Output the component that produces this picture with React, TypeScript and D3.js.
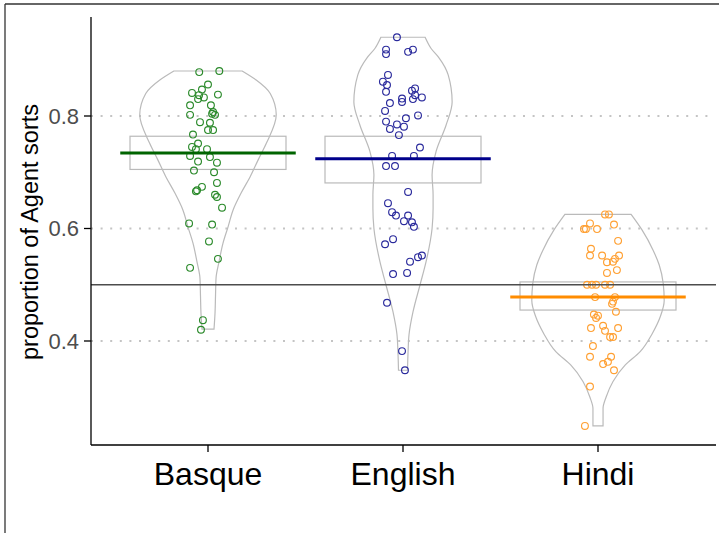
import React from "react";
import * as d3 from "d3";

const W = 719;
const H = 533;

const categories = ["Basque", "English", "Hindi"];
const yTicks = [0.4, 0.6, 0.8];
const referenceLine = 0.5;

// Violin outlines: [value, relative density (1 = widest violin)]
const violinBasque: [number, number][] = [
  [0.421, 0.088], [0.45, 0.103], [0.48, 0.11], [0.512, 0.118], [0.541, 0.162],
  [0.574, 0.22], [0.603, 0.294], [0.633, 0.368], [0.663, 0.485], [0.692, 0.618],
  [0.722, 0.735], [0.751, 0.853], [0.802, 1.0], [0.84, 0.912], [0.864, 0.706], [0.88, 0.5],
];
const violinEnglish: [number, number][] = [
  [0.348, 0.066], [0.38, 0.074], [0.411, 0.088], [0.452, 0.147], [0.5, 0.25],
  [0.541, 0.338], [0.6, 0.426], [0.636, 0.441], [0.66, 0.441], [0.695, 0.426],
  [0.737, 0.485], [0.784, 0.632], [0.825, 0.72], [0.873, 0.662], [0.903, 0.53],
  [0.92, 0.412], [0.94, 0.324],
];
const violinHindi: [number, number][] = [
  [0.249, 0.074], [0.28, 0.074], [0.3, 0.118], [0.328, 0.22], [0.357, 0.397],
  [0.381, 0.618], [0.413, 0.794], [0.443, 0.912], [0.472, 0.97], [0.502, 0.956],
  [0.535, 0.897], [0.561, 0.809], [0.597, 0.647], [0.625, 0.485],
];

// Individual proportions with horizontal jitter (% of category step)
const pointsBasque: [number, number][] = [
  [0.878, -4.5], [0.88, 5.8], [0.856, 0], [0.847, -3.1], [0.841, -8.2], [0.838, 5.1],
  [0.837, -4.6], [0.833, -2.1], [0.83, -5.1], [0.819, -9.2], [0.819, 1.5], [0.807, 2.6],
  [0.802, -9.2], [0.804, 2.1], [0.802, 3.6], [0.789, -4.1], [0.788, 1], [0.775, 0],
  [0.775, 2.6], [0.767, -7.7], [0.751, -5.1], [0.745, -8.2], [0.741, -6.2], [0.741, -0.5],
  [0.727, 1], [0.729, -9.2], [0.719, -5.1], [0.717, 4.6], [0.703, -7.2], [0.7, 3.1],
  [0.681, 4.6], [0.674, -3.1], [0.668, -5.6], [0.666, -6.2], [0.66, 3.6], [0.656, 4.6],
  [0.637, 7.2], [0.609, -9.7], [0.607, 2.1], [0.577, 0.5], [0.546, 5.1], [0.53, -9.2],
  [0.437, -2.6], [0.42, -3.6],
];
const pointsEnglish: [number, number][] = [
  [0.94, -3.1], [0.918, -8.7], [0.91, -8.7], [0.914, 2.6], [0.918, 5.1], [0.873, -7.7],
  [0.861, -10.3], [0.855, -8.2], [0.843, -8.7], [0.849, 6.2], [0.845, 4.6], [0.837, 6.2],
  [0.833, 9.7], [0.83, 5.1], [0.831, -0.5], [0.825, -0.5], [0.823, -6.7], [0.809, -9.2],
  [0.801, 7.7], [0.796, 1.5], [0.79, -8.7], [0.785, -3.1], [0.781, 0.5], [0.777, -6.7],
  [0.766, -2.1], [0.744, 8.7], [0.729, -5.6], [0.729, 5.6], [0.711, -8.7], [0.711, -4.1],
  [0.665, 2.6], [0.645, -7.7], [0.629, -5.6], [0.623, -3.6], [0.623, 2.6], [0.613, 0.5],
  [0.611, 4.6], [0.603, 5.6], [0.572, -9.2], [0.581, -5.1], [0.541, 3.6], [0.549, 7.7],
  [0.552, 9.7], [0.519, -5.1], [0.521, 2.1], [0.468, -8.2], [0.382, -0.5], [0.348, 1],
];
const pointsHindi: [number, number][] = [
  [0.625, 3.6], [0.625, 5.6], [0.609, -4.1], [0.607, 8.2], [0.599, -7.2], [0.599, -6.2],
  [0.599, -0.5], [0.578, 10.3], [0.564, -3.6], [0.552, -4.1], [0.552, 2.1], [0.552, 10.8],
  [0.546, 8.7], [0.541, 7.7], [0.54, 4.6], [0.526, 9.7], [0.521, 4.6], [0.5, -5.6],
  [0.5, -3.1], [0.5, -1], [0.5, 3.6], [0.5, 6.2], [0.478, -1.5], [0.478, 8.7],
  [0.47, 7.7], [0.466, 7.2], [0.452, 9.2], [0.447, -2.1], [0.445, 0], [0.441, -1],
  [0.423, -3.6], [0.427, 2.6], [0.418, 3.6], [0.423, 10.3], [0.407, 6.2], [0.407, 7.7],
  [0.391, -2.6], [0.372, -4.1], [0.372, 6.7], [0.363, 5.1], [0.359, 2.6], [0.348, 8.2],
  [0.319, -4.1], [0.249, -6.7],
];

// Mean and interval per language
const means = [0.734, 0.724, 0.478];
const lowers = [0.705, 0.681, 0.455];
const uppers = [0.764, 0.764, 0.505];

const violins = [violinBasque, violinEnglish, violinHindi];
const points = [pointsBasque, pointsEnglish, pointsHindi];
const pointColors = ["#2b8a2b", "#2a2a9c", "#ffa033"];
const meanColors = ["#006400", "#00008b", "#ff8c00"];

const font = "'Liberation Sans', Arial, sans-serif";

export default function App() {
  const left = 91;
  const right = 715;
  const top = 17;
  const bottom = 445;

  const x = d3.scalePoint<string>().domain(categories).range([left, right]).padding(0.6);
  const step = x.step();
  const y = d3.scaleLinear().domain([0.2151, 0.976]).range([bottom, top]);
  const wScale = d3.scaleLinear().domain([0, 1]).range([0, 0.35 * step]);

  return (
    <svg
      width={W}
      height={H}
      style={{ position: "absolute", left: 0, top: 0, background: "#fff" }}
      fontFamily={font}
    >
      <rect x={0} y={0} width={W} height={H} fill="#fff" />
      {/* outer frame */}
      <line x1={5} x2={5} y1={4} y2={H} stroke="#333" strokeWidth={1.3} />
      <line x1={5} x2={W} y1={4} y2={4} stroke="#333" strokeWidth={1.3} />

      {/* grid */}
      {yTicks.map((t) => (
        <line
          key={t}
          x1={left}
          x2={right}
          y1={y(t)}
          y2={y(t)}
          stroke="#c4c4c4"
          strokeWidth={2}
          strokeDasharray="2,7.6"
        />
      ))}

      {/* violins */}
      {categories.map((c, i) => {
        const cx = x(c)!;
        const area = d3
          .area<[number, number]>()
          .y((d) => y(d[0]))
          .x0((d) => cx - wScale(d[1]))
          .x1((d) => cx + wScale(d[1]))
          .curve(d3.curveMonotoneY);
        return (
          <path
            key={"v" + c}
            d={area(violins[i]) || ""}
            fill="none"
            stroke="#bababa"
            strokeWidth={1.2}
          />
        );
      })}

      {/* interval boxes */}
      {categories.map((c, i) => {
        const cx = x(c)!;
        const hw = 0.4 * step;
        return (
          <rect
            key={"b" + c}
            x={cx - hw}
            y={y(uppers[i])}
            width={2 * hw}
            height={y(lowers[i]) - y(uppers[i])}
            fill="none"
            stroke="#bababa"
            strokeWidth={1.2}
          />
        );
      })}

      {/* points */}
      {categories.map((c, i) =>
        points[i].map((p, j) => (
          <circle
            key={c + j}
            cx={x(c)! + (p[1] / 100) * step}
            cy={y(p[0])}
            r={3.4}
            fill="none"
            stroke={pointColors[i]}
            strokeWidth={1.15}
          />
        ))
      )}

      {/* reference line */}
      <line
        x1={left}
        x2={right + 1}
        y1={y(referenceLine)}
        y2={y(referenceLine)}
        stroke="#4d4d4d"
        strokeWidth={1.6}
      />

      {/* mean lines */}
      {categories.map((c, i) => {
        const cx = x(c)!;
        const hw = 0.45 * step;
        return (
          <line
            key={"m" + c}
            x1={cx - hw}
            x2={cx + hw}
            y1={y(means[i])}
            y2={y(means[i])}
            stroke={meanColors[i]}
            strokeWidth={3}
          />
        );
      })}

      {/* axes */}
      <line x1={left} x2={left} y1={top} y2={bottom} stroke="#000" strokeWidth={1.3} />
      <line x1={left} x2={right + 1} y1={bottom} y2={bottom} stroke="#000" strokeWidth={1.3} />
      {yTicks.map((t) => (
        <g key={"yt" + t}>
          <line x1={left - 7} x2={left} y1={y(t)} y2={y(t)} stroke="#000" strokeWidth={1.3} />
          <text
            x={left - 12}
            y={y(t)}
            dy="0.36em"
            textAnchor="end"
            fontSize={22}
            fill="#4d4d4d"
          >
            {t.toFixed(1)}
          </text>
        </g>
      ))}
      {categories.map((c) => (
        <g key={"xt" + c}>
          <line x1={x(c)!} x2={x(c)!} y1={bottom} y2={bottom + 7} stroke="#000" strokeWidth={1.3} />
          <text x={x(c)!} y={485} textAnchor="middle" fontSize={32} fill="#000">
            {c}
          </text>
        </g>
      ))}
      <text
        transform={`translate(38, ${(top + bottom) / 2 + 1}) rotate(-90)`}
        textAnchor="middle"
        fontSize={23.5}
        fill="#000"
      >
        proportion of Agent sorts
      </text>
    </svg>
  );
}
